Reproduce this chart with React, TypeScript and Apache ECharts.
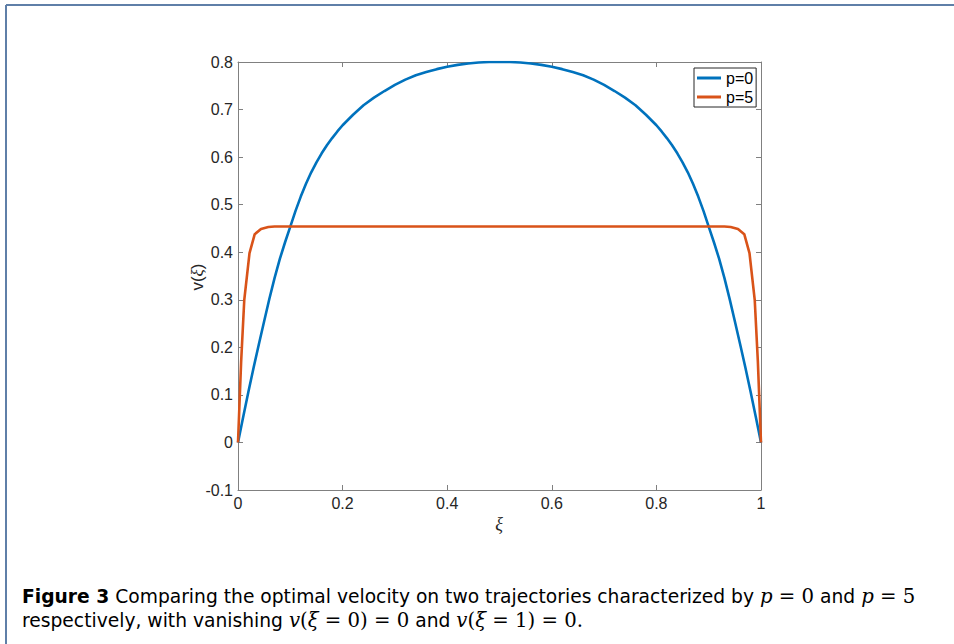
import React, { useEffect, useRef } from "react";
import * as echarts from "echarts";

// ---- data: [xi, v] ----
const bluePoints: [number, number][] = [
  [0, 0], [0.01, 0.054], [0.02, 0.107], [0.03, 0.158], [0.04, 0.207], [0.05, 0.255], [0.06, 0.302],
  [0.07, 0.346], [0.08, 0.386], [0.09, 0.421], [0.1, 0.454], [0.11, 0.487], [0.12, 0.517], [0.13, 0.544],
  [0.14, 0.568], [0.15, 0.589], [0.16, 0.608], [0.17, 0.625], [0.18, 0.64], [0.19, 0.654], [0.2, 0.667],
  [0.22, 0.689], [0.24, 0.709], [0.26, 0.725], [0.28, 0.739], [0.3, 0.752], [0.32, 0.763], [0.34, 0.772],
  [0.36, 0.779], [0.38, 0.785], [0.4, 0.79], [0.42, 0.794], [0.44, 0.797], [0.46, 0.799], [0.48, 0.8],
  [0.5, 0.8], [0.52, 0.8], [0.54, 0.799], [0.56, 0.797], [0.58, 0.794], [0.6, 0.79], [0.62, 0.785],
  [0.64, 0.779], [0.66, 0.772], [0.68, 0.763], [0.7, 0.752], [0.72, 0.739], [0.74, 0.725], [0.76, 0.709],
  [0.78, 0.689], [0.8, 0.667], [0.81, 0.654], [0.82, 0.64], [0.83, 0.625], [0.84, 0.608], [0.85, 0.589],
  [0.86, 0.568], [0.87, 0.544], [0.88, 0.517], [0.89, 0.487], [0.9, 0.454], [0.91, 0.421], [0.92, 0.386],
  [0.93, 0.346], [0.94, 0.302], [0.95, 0.255], [0.96, 0.207], [0.97, 0.158], [0.98, 0.107], [0.99, 0.054],
  [1, 0],
];
const redPoints: [number, number][] = [
  [0, 0], [0.006, 0.17], [0.012, 0.3], [0.022, 0.398], [0.032, 0.438], [0.044, 0.449], [0.058, 0.453],
  [0.07, 0.454], [0.5, 0.454], [0.93, 0.454], [0.942, 0.453], [0.956, 0.449], [0.968, 0.438], [0.978, 0.398],
  [0.988, 0.3], [0.994, 0.17], [1, 0],
];

const seriesNames = ["p=0", "p=5"];
const seriesColors = ["#0072BD", "#D95319"];

const xMin = 0, xMax = 1, xStep = 0.2;
const yMin = -0.1, yMax = 0.8, yStep = 0.1;

const captionLine1 = [
  ["b", "Figure 3"],
  ["t", " Comparing the optimal velocity on two trajectories characterized by "],
  ["mi", "p"],
  ["mr", " = 0"],
  ["t", " and "],
  ["mi", "p"],
  ["mr", " = 5"],
];
const captionLine2 = [
  ["t", "respectively, with vanishing "],
  ["mi", "v"],
  ["mr", "("],
  ["mi", "ξ"],
  ["mr", " = 0) = 0"],
  ["t", " and "],
  ["mi", "v"],
  ["mr", "("],
  ["mi", "ξ"],
  ["mr", " = 1) = 0."],
];

const SANS = "'Liberation Sans', Arial, sans-serif";
const CAP_SANS = "'DejaVu Sans', sans-serif";
const SERIF = "'Liberation Serif', 'DejaVu Serif', serif";
const MATH = "'DejaVu Serif', serif";
const AXIS_GRAY = "#808080";
const LABEL = "#262626";

const fmt = (v: number) => {
  if (Math.abs(v) < 1e-9) return "0";
  if (Math.abs(v - Math.round(v)) < 1e-9) return String(Math.round(v));
  return v.toFixed(1);
};

const toRich = (parts: string[][]) => parts.map(([k, s]) => `{${k}|${s}}`).join("");

const capRich = {
  b: { fontFamily: CAP_SANS, fontWeight: "bold", fontSize: 18.7, fill: "#000" },
  t: { fontFamily: CAP_SANS, fontSize: 18.7, fill: "#000" },
  mi: { fontFamily: MATH, fontStyle: "italic", fontSize: 19.7, fill: "#000" },
  mr: { fontFamily: MATH, fontSize: 19.7, fill: "#000" },
};

export default function App() {
  const ref = useRef<HTMLDivElement>(null);
  useEffect(() => {
    if (!ref.current) return;
    const chart = echarts.init(ref.current, null, { renderer: "svg" });
    const baseX = {
      type: "value",
      min: xMin,
      max: xMax,
      interval: xStep,
      splitLine: { show: false },
      axisLine: { show: true, onZero: false, lineStyle: { color: AXIS_GRAY, width: 1 } },
      axisTick: { show: true, inside: true, length: 5, lineStyle: { color: AXIS_GRAY, width: 1 } },
    };
    const baseY = {
      type: "value",
      min: yMin,
      max: yMax,
      interval: yStep,
      splitLine: { show: false },
      axisLine: { show: true, onZero: false, lineStyle: { color: AXIS_GRAY, width: 1 } },
      axisTick: { show: true, inside: true, length: 5, lineStyle: { color: AXIS_GRAY, width: 1 } },
    };
    chart.setOption({
      animation: false,
      backgroundColor: "#ffffff",
      grid: { left: 238, top: 62, width: 523, height: 428, containLabel: false },
      xAxis: [
        {
          ...baseX,
          position: "bottom",
          axisLabel: { color: LABEL, fontSize: 16, fontFamily: SANS, margin: 5, formatter: fmt },
        },
        { ...baseX, position: "top", axisLabel: { show: false } },
      ],
      yAxis: [
        {
          ...baseY,
          position: "left",
          axisLabel: { color: LABEL, fontSize: 16, fontFamily: SANS, margin: 5, formatter: fmt },
        },
        { ...baseY, position: "right", axisLabel: { show: false } },
      ],
      legend: {
        orient: "vertical",
        left: 694,
        top: 68,
        icon: "rect",
        itemWidth: 24,
        itemHeight: 3,
        itemGap: 3,
        padding: [2, 3, 2, 3],
        borderColor: "#262626",
        borderWidth: 1,
        borderRadius: 0,
        backgroundColor: "#ffffff",
        textStyle: { fontFamily: SANS, fontSize: 16, color: "#000" },
        data: seriesNames,
      },
      series: [
        {
          name: seriesNames[0],
          type: "line",
          data: bluePoints,
          showSymbol: false,
          symbol: "none",
          color: seriesColors[0],
          lineStyle: { color: seriesColors[0], width: 2.6, join: "round" },
          z: 3,
        },
        {
          name: seriesNames[1],
          type: "line",
          data: redPoints,
          showSymbol: false,
          symbol: "none",
          color: seriesColors[1],
          lineStyle: { color: seriesColors[1], width: 2.6, join: "round" },
          z: 4,
        },
      ],
      graphic: [
        { type: "line", shape: { x1: 6, y1: 5, x2: 954, y2: 5 }, style: { stroke: "#5f7fa8", lineWidth: 2 } },
        { type: "line", shape: { x1: 6, y1: 5, x2: 6, y2: 644 }, style: { stroke: "#5f7fa8", lineWidth: 2 } },
        {
          type: "text",
          x: 499,
          y: 524,
          style: {
            text: "ξ",
            fontFamily: SERIF,
            fontStyle: "italic",
            fontSize: 18,
            fill: LABEL,
            align: "center",
            verticalAlign: "middle",
          },
        },
        {
          type: "text",
          x: 197,
          y: 277,
          rotation: Math.PI / 2,
          style: {
            text: "{s|v}{r|(}{i|ξ}{r|)}",
            align: "center",
            verticalAlign: "middle",
            rich: {
              s: { fontFamily: SANS, fontSize: 17, fill: LABEL },
              r: { fontFamily: SANS, fontSize: 17, fill: LABEL },
              i: { fontFamily: SERIF, fontStyle: "italic", fontSize: 17, fill: LABEL },
            },
          },
        },
        {
          type: "text",
          x: 22,
          y: 596,
          style: { text: toRich(captionLine1), verticalAlign: "middle", rich: capRich },
        },
        {
          type: "text",
          x: 22,
          y: 620,
          style: { text: toRich(captionLine2), verticalAlign: "middle", rich: capRich },
        },
      ],
    });
    return () => chart.dispose();
  }, []);
  return (
    <div
      ref={ref}
      style={{ position: "absolute", left: 0, top: 0, width: 954, height: 644, background: "#fff" }}
    />
  );
}
